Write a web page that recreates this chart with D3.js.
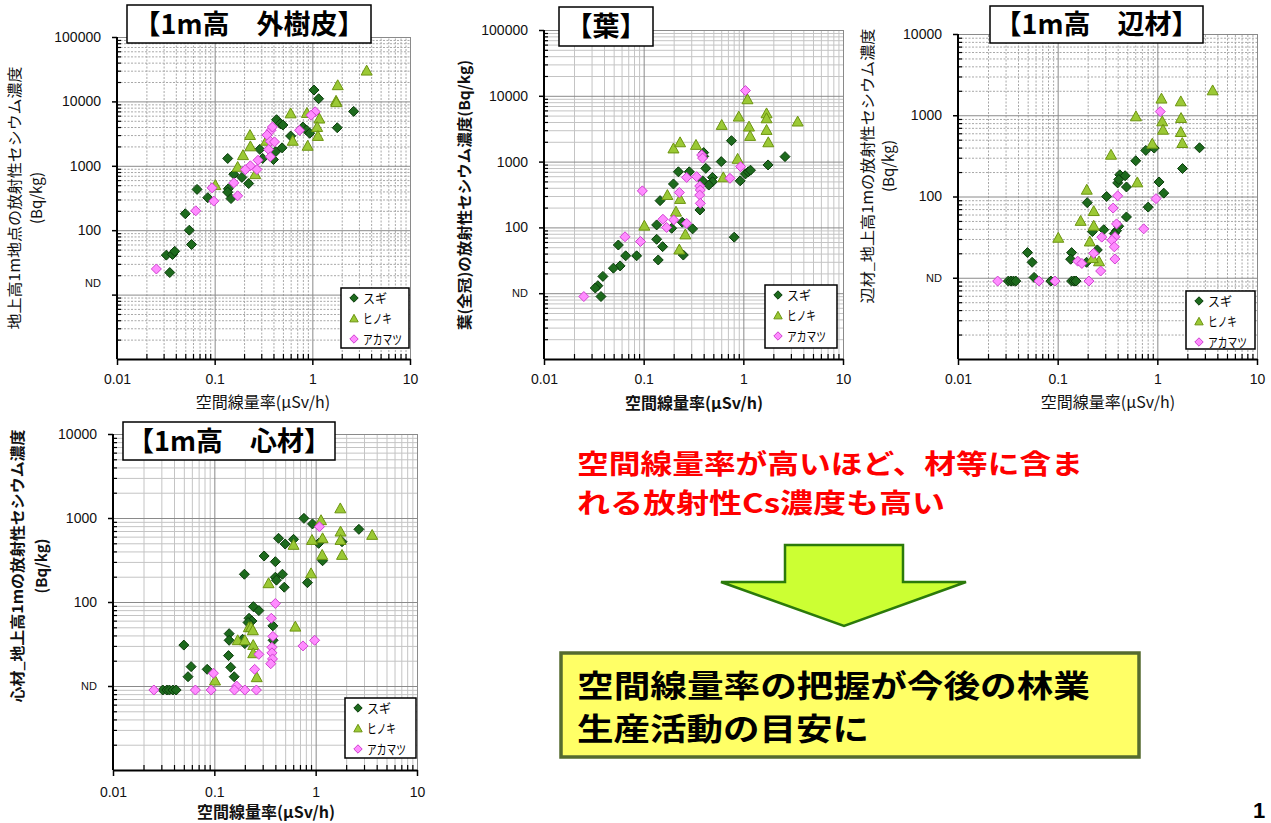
<!DOCTYPE html>
<html>
<head>
<meta charset="utf-8">
<script src="https://cdn.jsdelivr.net/npm/d3@7"></script>
<style>
  body { margin: 0; background: #fff; }
  svg { display: block; }
</style>
</head>
<body>
<svg id="chart" width="1271" height="823"></svg>
<script>
// species (series) names, in drawing order
const species = ['スギ', 'ヒノキ', 'アカマツ'];

// x axis ticks (空間線量率, μSv/h)
const xTickValues = [0.01, 0.1, 1, 10];
const xTickLabels = ['0.01', '0.1', '1', '10'];

// y axis ticks (Bq/kg); ND points are plotted just under 10
const yTickValues5 = [10, 100, 1000, 10000, 100000];
const yTickLabels5 = ['ND', '100', '1000', '10000', '100000'];
const yTickValues4 = [10, 100, 1000, 10000];
const yTickLabels4 = ['ND', '100', '1000', '10000'];

// 【1m高 外樹皮】 [dose rate, concentration]
const barkSugi = [[1.04,15000],[1.16,11000],[2.65,7000],[1.8,3900],[0.43,5200],[0.47,4500],[0.5,4300],[0.8,4000],[0.87,3600],[0.94,3200],[0.6,2900],[0.49,1900],[0.42,1650],[0.4,1250],[0.29,1800],[0.31,1300],[0.136,1300],[0.157,740],[0.19,660],[0.223,530],[0.138,440],[0.136,390],[0.147,310],[0.066,430],[0.085,320],[0.05,180],[0.055,100],[0.058,60],[0.032,41],[0.037,42],[0.039,47],[0.0347,22]];
const barkHinoki = [[3.6,30000],[1.82,17800],[1.75,10200],[1.76,9700],[0.6,6500],[0.88,6600],[1.18,5400],[1.12,4000],[1.14,2900],[0.895,2040],[0.63,2440],[0.23,3000],[0.232,2000],[0.195,1460],[0.172,960],[0.26,740],[0.1016,500],[0.338,2440]];
const barkAkamatsu = [[1.07,6900],[0.97,6100],[0.74,3560],[0.378,3560],[0.39,4000],[0.344,3000],[0.372,2400],[0.41,2350],[0.357,1790],[0.372,1380],[0.278,1220],[0.271,875],[0.232,1000],[0.206,870],[0.157,543],[0.172,342],[0.094,455],[0.098,283],[0.064,200],[0.0253,25]];

// 【葉】
const leafSugi = [[0.76,2080],[2.62,1190],[1.77,890],[0.6,1000],[0.4,1370],[0.4,1200],[1.05,650],[1.12,700],[1.18,740],[0.93,510],[0.42,790],[0.49,575],[0.49,494],[0.45,440],[0.39,510],[0.367,184],[0.287,700],[0.223,700],[0.199,457],[0.146,255],[0.135,109],[0.135,66],[0.155,51],[0.14,32],[0.191,97],[0.244,120],[0.31,95],[0.25,38],[0.81,71],[0.085,37],[0.066,37],[0.0557,54],[0.058,26],[0.0497,24],[0.039,18],[0.0347,13],[0.0327,12],[0.0373,8.9]];
const leafHinoki = [[1.1,8830],[0.9,4820],[1.71,5400],[1.71,4540],[3.51,4050],[0.607,3600],[1.14,3400],[1.17,2450],[1.71,3020],[1.78,1960],[0.199,1580],[0.232,1960],[0.335,1790],[0.877,1100],[0.63,575],[0.173,310],[0.232,270],[0.211,173],[0.1016,106],[0.262,78],[0.228,46]];
const leafAkamatsu = [[1.05,12000],[0.382,1260],[0.39,1130],[0.94,838],[0.734,557],[0.34,590],[0.27,575],[0.365,425],[0.37,370],[0.365,310],[0.37,232],[0.228,339],[0.097,359],[0.156,133],[0.2,130],[0.17,100],[0.27,115],[0.065,72],[0.093,61],[0.0251,8.9]];

// 【1m高 辺材】
const sapSugi = [[2.65,398],[1.79,221],[0.766,369],[0.93,394],[0.607,275],[0.42,185],[0.475,180],[0.4,147],[0.49,131],[0.41,162],[1.04,151],[1.16,110],[0.81,74],[0.49,56],[0.31,100],[0.198,84],[0.41,43],[0.39,38],[0.37,35],[0.29,39],[0.223,37],[0.25,22],[0.138,20.4],[0.135,16.9],[0.195,15.5],[0.0498,20.4],[0.0554,15.5],[0.058,10.1],[0.032,9.1],[0.034,9.1],[0.036,9.1],[0.038,9.1],[0.0855,9.1],[0.138,9.1],[0.146,9.1],[0.153,9.1]];
const sapHinoki = [[3.59,2020],[1.1,1600],[1.72,1480],[1.12,840],[1.14,662],[1.73,923],[1.72,620],[1.78,454],[0.89,446],[0.61,968],[0.343,326],[0.63,149],[0.196,121],[0.23,66],[0.17,50],[0.23,43.6],[0.21,27.9],[0.26,15.9],[0.225,17.4],[0.1014,31]];
const sapAkamatsu = [[1.07,1110],[0.97,94],[0.73,40],[0.4,102],[0.36,72],[0.39,46],[0.376,32],[0.35,29],[0.37,24],[0.375,17],[0.277,31.6],[0.23,20],[0.159,16],[0.175,15],[0.27,12.1],[0.025,9.1],[0.065,9.1],[0.094,9.1],[0.206,9.1]];

// 【1m高 心材】
const heartSugi = [[0.766,990],[0.93,850],[2.67,733],[1.82,522],[1.07,499],[1.17,310],[0.43,573],[0.5,490],[0.605,557],[0.31,353],[0.4,302],[0.4,197],[0.41,182],[0.47,214],[0.49,150],[0.83,170],[0.198,214],[0.243,88],[0.275,79],[0.22,64],[0.235,59.5],[0.215,57],[0.378,52],[0.38,35],[0.19,36],[0.2,32],[0.14,42],[0.14,35],[0.138,23],[0.145,16.7],[0.157,12.9],[0.05,30.7],[0.059,17],[0.055,12.9],[0.085,15.8],[0.031,8.96],[0.034,8.96],[0.036,8.96],[0.039,8.96],[0.042,8.96]];
const heartHinoki = [[1.75,1300],[1.13,940],[1.76,688],[1.76,547],[1.17,573],[0.92,547],[1.16,363],[1.82,363],[3.61,628],[0.605,478],[0.9,219],[0.343,167],[0.63,50.8],[0.219,50],[0.23,50],[0.24,46],[0.17,35],[0.2,35],[0.242,30.7],[0.242,24.5],[0.262,12.7],[0.1016,11.6]];
const heartAkamatsu = [[1.09,788],[0.4,96],[0.365,64],[0.378,39],[0.977,35],[0.75,30],[0.37,28.9],[0.37,24.8],[0.375,21],[0.36,18.4],[0.275,23.8],[0.25,15.8],[0.098,14.2],[0.166,10],[0.0253,8.96],[0.065,8.96],[0.093,8.96],[0.158,8.96],[0.2,8.96],[0.26,8.96]];

const message = ['空間線量率が高いほど、材等に含ま', 'れる放射性Cs濃度も高い'];
const conclusion = ['空間線量率の把握が今後の林業', '生産活動の目安に'];

const JP = '"Noto Sans CJK JP", sans-serif';
const NUM = '"Liberation Sans", Arial, sans-serif';

const marks = [
  {shape: 'diamond', fill: '#1d6a1d', stroke: '#0b3c0b'},
  {shape: 'triangle', fill: '#9bc935', stroke: '#6c9410'},
  {shape: 'diamond', fill: '#ff8cff', stroke: '#d040d0'},
];

const shapes = {
  diamond: r => `M0,${-r}L${r},0L0,${r}L${-r},0Z`,
  triangle: r => `M0,${-r}L${r},${r * 0.8}L${-r},${r * 0.8}Z`,
};

const panels = [
  {title: '【1m高　外樹皮】', box: [127, 5, 244, 38], left: 117, right: 410, top: 37, bottom: 359,
   yMax: 1e5, yTicks: yTickValues5, yLabels: yTickLabels5, dotted: true, ndDy: -12, xPad: 9,
   yTitle: [{text: '地上高1m地点の放射性セシウム濃度', x: 15, len: 263}, {text: '(Bq/kg)', x: 37}], yTitleCy: 198, bold: false,
   xTitle: [263, 402], legend: [341, 288, 68, 60],
   series: [barkSugi, barkHinoki, barkAkamatsu]},
  {title: '【葉】', box: [559, 7, 94, 39], left: 544, right: 843, top: 30, bottom: 359,
   yMax: 1e5, yTicks: yTickValues5, yLabels: yTickLabels5, dotted: false, ndDy: 0, xPad: 9,
   yTitle: [{text: '葉(全冠)の放射性セシウム濃度(Bq/kg)', x: 465, len: 270}], yTitleCy: 195, bold: true,
   xTitle: [694, 403], legend: [765, 285, 72, 63],
   series: [leafSugi, leafHinoki, leafAkamatsu]},
  {title: '【1m高　辺材】', box: [990, 6, 213, 37], left: 958, right: 1257, top: 34, bottom: 359,
   yMax: 1e4, yTicks: yTickValues4, yLabels: yTickLabels4, dotted: true, ndDy: 0, xPad: 9,
   yTitle: [{text: '辺材_地上高1mの放射性セシウム濃度', x: 868, len: 275}, {text: '(Bq/kg)', x: 889}], yTitleCy: 166, bold: false,
   xTitle: [1108, 402], legend: [1186, 291, 69, 58],
   series: [sapSugi, sapHinoki, sapAkamatsu]},
  {title: '【1m高　心材】', box: [123, 422, 212, 38], left: 113, right: 417, top: 434, bottom: 770,
   yMax: 1e4, yTicks: yTickValues4, yLabels: yTickLabels4, dotted: false, ndDy: 0, xPad: 11,
   yTitle: [{text: '心材_地上高1mの放射性セシウム濃度', x: 18, len: 273}, {text: '(Bq/kg)', x: 42}], yTitleCy: 566, bold: true,
   xTitle: [266, 812], legend: [345, 698, 71, 60],
   series: [heartSugi, heartHinoki, heartAkamatsu]},
];

const svg = d3.select('#chart');
svg.append('rect').attr('width', 1271).attr('height', 823).attr('fill', '#fff');

const isMajor = v => Math.abs(Math.log10(v) - Math.round(Math.log10(v))) < 1e-9;

function drawPanel(p) {
  const x = d3.scaleLog().domain([0.01, 10]).range([p.left, p.right]);
  const y = d3.scaleLog().domain([1, p.yMax]).range([p.bottom, p.top]);
  const w = p.right - p.left, h = p.bottom - p.top;
  const xMinor = x.ticks().filter(v => !isMajor(v));
  const yMinor = y.ticks().filter(v => !isMajor(v));
  const xMajor = x.ticks().filter(isMajor);
  const yMajor = y.ticks().filter(isMajor);
  const g = svg.append('g');

  // grid lines
  const grid = (axis, tr, values, color, dash) => g.append('g')
    .attr('transform', tr)
    .call(axis.tickValues(values).tickFormat('').tickSizeOuter(0))
    .call(s => s.select('.domain').remove())
    .call(s => s.selectAll('line').attr('stroke', color).attr('stroke-width', 1)
      .attr('stroke-dasharray', dash));
  const minorDash = p.dotted ? '2,1.5' : null;
  grid(d3.axisBottom(x).tickSize(-h), `translate(0,${p.bottom})`, xMinor, p.dotted ? '#a8a8a8' : '#c4c4c4', minorDash);
  grid(d3.axisLeft(y).tickSize(-w), `translate(${p.left},0)`, yMinor, p.dotted ? '#a8a8a8' : '#c4c4c4', minorDash);
  grid(d3.axisBottom(x).tickSize(-h), `translate(0,${p.bottom})`, xMajor, '#8a8a8a', null);
  grid(d3.axisLeft(y).tickSize(-w), `translate(${p.left},0)`, yMajor, '#8a8a8a', null);

  // minor ticks inside the plot
  g.append('g').attr('transform', `translate(0,${p.bottom})`)
    .call(d3.axisTop(x).tickValues(xMinor).tickSize(5).tickFormat('').tickSizeOuter(0))
    .call(s => s.select('.domain').remove())
    .call(s => s.selectAll('line').attr('stroke', '#000').attr('stroke-width', 1.2));
  g.append('g').attr('transform', `translate(${p.left},0)`)
    .call(d3.axisRight(y).tickValues(yMinor).tickSize(4).tickFormat('').tickSizeOuter(0))
    .call(s => s.select('.domain').remove())
    .call(s => s.selectAll('line').attr('stroke', '#000').attr('stroke-width', 1.2));

  // major axes with labels
  g.append('g').attr('transform', `translate(0,${p.bottom})`)
    .call(d3.axisBottom(x).tickValues(xTickValues).tickSize(6).tickPadding(p.xPad).tickSizeOuter(0)
      .tickFormat((d, i) => xTickLabels[i]))
    .call(s => s.select('.domain').attr('stroke', '#000').attr('stroke-width', 2))
    .call(s => s.selectAll('line').attr('stroke', '#000').attr('stroke-width', 1.5))
    .call(s => s.selectAll('text').attr('font-family', NUM).attr('font-size', 14).attr('fill', '#111'));

  g.append('g').attr('transform', `translate(${p.left},0)`)
    .call(d3.axisLeft(y).tickValues(p.yTicks).tickSize(5).tickPadding(11).tickSizeOuter(0)
      .tickFormat((d, i) => p.yLabels[i]))
    .call(s => s.select('.domain').attr('stroke', '#000').attr('stroke-width', 2)
      .attr('d', `M0,${p.bottom}V${p.top}`))
    .call(s => s.selectAll('line').attr('stroke', '#000').attr('stroke-width', 1.5))
    .call(s => s.selectAll('text').attr('font-family', NUM).attr('font-size', 14).attr('fill', '#111'))
    .call(s => s.selectAll('text').filter(t => t === 10)
      .attr('font-size', 11).attr('y', p.ndDy));

  // data
  p.series.forEach((data, i) => {
    const m = marks[i];
    g.append('g').selectAll('path').data(data).join('path')
      .attr('transform', d => `translate(${x(d[0])},${y(d[1])})`)
      .attr('d', shapes[m.shape](m.shape === 'diamond' ? 5 : 5.5))
      .attr('fill', m.fill).attr('stroke', m.stroke).attr('stroke-width', 1);
  });

  // title box
  const [bx, by, bw, bh] = p.box;
  g.append('rect').attr('x', bx).attr('y', by).attr('width', bw).attr('height', bh)
    .attr('fill', '#fff').attr('stroke', '#000').attr('stroke-width', 1.5);
  g.append('text').attr('x', bx + bw / 2).attr('y', by + bh / 2).attr('dy', '0.36em')
    .attr('text-anchor', 'middle').attr('font-family', JP).attr('font-weight', 'bold')
    .attr('font-size', 27).text(p.title);

  // axis titles
  p.yTitle.forEach(t => {
    const txt = g.append('text')
      .attr('transform', `translate(${t.x},${p.yTitleCy}) rotate(-90)`)
      .attr('dy', '0.36em').attr('text-anchor', 'middle')
      .attr('font-family', JP).attr('font-size', 15)
      .attr('font-weight', p.bold ? 'bold' : 'normal').attr('fill', '#111')
      .text(t.text);
    if (t.len) txt.attr('textLength', t.len).attr('lengthAdjust', 'spacingAndGlyphs');
  });
  g.append('text').attr('x', p.xTitle[0]).attr('y', p.xTitle[1]).attr('dy', '0.36em')
    .attr('text-anchor', 'middle').attr('font-family', JP).attr('font-size', 16)
    .attr('font-weight', p.bold ? 'bold' : 'normal').attr('fill', '#111')
    .text('空間線量率(μSv/h)');

  // legend
  const [lx, ly, lw, lh] = p.legend;
  const lg = g.append('g');
  lg.append('rect').attr('x', lx).attr('y', ly).attr('width', lw).attr('height', lh)
    .attr('fill', '#fff').attr('stroke', '#000').attr('stroke-width', 1.5);
  const legendLen = [24, 29, 39];
  species.forEach((name, i) => {
    const m = marks[i];
    const cy = ly + 10 + i * 20.5;
    lg.append('path').attr('transform', `translate(${lx + 13},${cy})`)
      .attr('d', shapes[m.shape](4.2)).attr('fill', m.fill).attr('stroke', m.stroke);
    lg.append('text').attr('x', lx + 22).attr('y', cy).attr('dy', '0.36em')
      .attr('font-family', JP).attr('font-size', 13).attr('fill', '#000')
      .attr('textLength', legendLen[i]).attr('lengthAdjust', 'spacingAndGlyphs')
      .text(name);
  });
}

panels.forEach(drawPanel);

// message on the right
message.forEach((line, i) => {
  svg.append('text').attr('x', 577).attr('y', 474 + i * 39)
    .attr('font-family', JP).attr('font-weight', 'bold').attr('font-size', 27)
    .attr('fill', '#ff0000')
    .attr('textLength', i === 0 ? 506 : 368).attr('lengthAdjust', 'spacingAndGlyphs')
    .text(line);
});

// arrow
svg.append('path')
  .attr('d', d3.line()([[785, 545], [903, 545], [903, 582], [966, 582], [844, 626], [721, 582], [785, 582]]) + 'Z')
  .attr('fill', '#ccff33').attr('stroke', '#2b7a0b').attr('stroke-width', 2.5)
  .attr('stroke-linejoin', 'miter');

// conclusion box
svg.append('rect').attr('x', 561).attr('y', 653).attr('width', 578).attr('height', 104)
  .attr('fill', '#ffff66').attr('stroke', '#556b2f').attr('stroke-width', 3.5);
conclusion.forEach((line, i) => {
  svg.append('text').attr('x', 577).attr('y', 697 + i * 43)
    .attr('font-family', JP).attr('font-weight', 'bold').attr('font-size', 31)
    .attr('fill', '#000')
    .attr('textLength', i === 0 ? 513 : 292).attr('lengthAdjust', 'spacingAndGlyphs')
    .text(line);
});

// page number
svg.append('text').attr('x', 1253).attr('y', 818)
  .attr('font-family', NUM).attr('font-weight', 'bold').attr('font-size', 22)
  .attr('fill', '#000').text('1');
</script>
</body>
</html>
